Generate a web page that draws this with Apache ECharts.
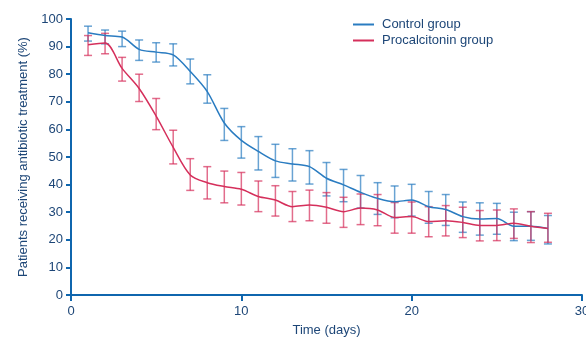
<!DOCTYPE html>
<html lang="en">
<head>
	<meta charset="UTF-8">
	<title>Antibiotic treatment</title>
	<style>
	body, div {
		margin: 0;
		padding: 0;
	}
	.echart {
		width: 586px;
		height: 338px;
	}
	</style>
</head>
<body>
	<div id="echart" class="echart"></div>

	<script src="https://cdn.jsdelivr.net/npm/echarts@6/dist/echarts.min.js"></script>

	<script>

var days = [1, 2, 3, 4, 5, 6, 7, 8, 9, 10, 11, 12, 13, 14, 15, 16, 17, 18, 19, 20, 21, 22, 23, 24, 25, 26, 27, 28];

// control group: mean, lower, upper
var controlMean = [95, 94, 93.5, 89, 88, 87, 81, 73.7, 62.3, 56, 52, 48.6, 47.5, 46.5, 42.3, 39.9, 37.2, 35, 33.8, 34.4, 32, 31, 28.4, 27.5, 27.7, 24.9, 24.9, 24.1];
var controlLow  = [92, 91, 90, 85, 84.4, 83, 76.5, 69.5, 56, 49.6, 45.3, 42.6, 41.3, 40.2, 35.9, 33.8, 31.5, 29.2, 28, 28.6, 26, 25.2, 22.7, 21.7, 22, 19.7, 19.8, 18.5];
var controlHigh = [97.4, 96, 95.6, 92.4, 91.4, 91, 85.5, 79.8, 67.6, 61, 57.4, 54.6, 53, 52.3, 48, 45.5, 43.3, 40.7, 39.5, 40.1, 37.5, 36.4, 33.7, 33.4, 33.2, 30, 30.2, 28.8];

// procalcitonin group: mean, lower, upper
var pctMean = [90.7, 91.3, 82.1, 74.8, 64.8, 53.5, 43.5, 40.7, 39.3, 38.3, 35.7, 34.4, 32, 32.6, 31.8, 30.2, 31.5, 30.8, 28.1, 28.4, 26.6, 26.9, 26.3, 25.2, 25.2, 26, 24.9, 24.1];
var pctLow  = [86.8, 87.4, 77.5, 70.1, 59.9, 47.5, 37.9, 34.8, 33.4, 32.6, 30.2, 28.6, 26.6, 26.9, 26, 24.5, 25.5, 25.1, 22.4, 22.4, 21.1, 21.4, 20.8, 19.6, 19.7, 20.5, 19, 19.1];
var pctHigh = [94, 94.8, 86.1, 80, 71.2, 59.7, 49.4, 46.5, 44.9, 44.4, 41.3, 39.6, 37.5, 38, 37.1, 35.4, 36.6, 36.4, 33.5, 33.7, 32, 32.4, 31.8, 30.6, 30.8, 31.2, 30.2, 29.6];

var xTicks = [0, 10, 20, 30];
var yTicks = [0, 10, 20, 30, 40, 50, 60, 70, 80, 90, 100];

var blue = '#2a7cc1';
var red = '#d52f5b';
var axisColor = '#0f66ae';
var textColor = '#1d4677';

function pairs(xs, ys) {
	var out = [];
	for (var i = 0; i < xs.length; i++) out.push([xs[i], ys[i]]);
	return out;
}

function triples(xs, lo, hi) {
	var out = [];
	for (var i = 0; i < xs.length; i++) out.push([xs[i], lo[i], hi[i]]);
	return out;
}

// error bar drawn through the chart's own scales
function errorBar(color) {
	return function (params, api) {
		var x = api.value(0);
		var low = api.coord([x, api.value(1)]);
		var high = api.coord([x, api.value(2)]);
		var cap = 4;
		var style = { stroke: color, lineWidth: 1.5, opacity: 0.7 };
		return {
			type: 'group',
			children: [
				{ type: 'line', shape: { x1: low[0], y1: low[1], x2: high[0], y2: high[1] }, style: style },
				{ type: 'line', shape: { x1: low[0] - cap, y1: low[1], x2: low[0] + cap, y2: low[1] }, style: style },
				{ type: 'line', shape: { x1: high[0] - cap, y1: high[1], x2: high[0] + cap, y2: high[1] }, style: style }
			]
		};
	};
}

var myEcharts = echarts.init(document.getElementById('echart'));

myEcharts.setOption({
	animation: false,
	textStyle: { fontFamily: 'Liberation Sans, Arial, sans-serif' },
	grid: { left: 71, right: 4, top: 19, bottom: 43, containLabel: false, outerBoundsMode: 'none' },
	legend: {
		orient: 'vertical',
		left: 353,
		top: 18,
		padding: 0,
		itemWidth: 21,
		itemHeight: 2,
		itemGap: 3,
		icon: 'rect',
		textStyle: { color: textColor, fontSize: 13, padding: [0, 0, 0, 3] },
		data: ['Control group', 'Procalcitonin group']
	},
	xAxis: {
		type: 'value',
		min: xTicks[0],
		max: xTicks[xTicks.length - 1],
		interval: 10,
		name: 'Time (days)',
		nameLocation: 'middle',
		nameGap: 29,
		nameTextStyle: { color: textColor, fontSize: 13 },
		axisLine: { lineStyle: { color: axisColor, width: 2 } },
		axisTick: { lineStyle: { color: axisColor, width: 2 }, length: 6 },
		axisLabel: { color: textColor, fontSize: 13, margin: 10 },
		splitLine: { show: false }
	},
	yAxis: {
		type: 'value',
		min: yTicks[0],
		max: yTicks[yTicks.length - 1],
		interval: 10,
		name: 'Patients receiving antibiotic treatment (%)',
		nameLocation: 'middle',
		nameGap: 31,
		nameTextStyle: { color: textColor, fontSize: 13 },
		axisLine: { show: true, lineStyle: { color: axisColor, width: 2 } },
		axisTick: { show: true, lineStyle: { color: axisColor, width: 2 }, length: 5 },
		axisLabel: { color: textColor, fontSize: 13, margin: 8 },
		splitLine: { show: false }
	},
	series: [
		{
			name: 'Control group',
			type: 'line',
			smooth: 0.3,
			symbol: 'none',
			color: blue,
			lineStyle: { color: blue, width: 1.5 },
			data: pairs(days, controlMean),
			z: 3
		},
		{
			name: 'Procalcitonin group',
			type: 'line',
			smooth: 0.3,
			symbol: 'none',
			color: red,
			lineStyle: { color: red, width: 1.5 },
			data: pairs(days, pctMean),
			z: 3
		},
		{
			type: 'custom',
			renderItem: errorBar(blue),
			encode: { x: 0, y: [1, 2] },
			data: triples(days, controlLow, controlHigh),
			z: 2
		},
		{
			type: 'custom',
			renderItem: errorBar(red),
			encode: { x: 0, y: [1, 2] },
			data: triples(days, pctLow, pctHigh),
			z: 2
		}
	]
});

</script>
</body>
</html>
